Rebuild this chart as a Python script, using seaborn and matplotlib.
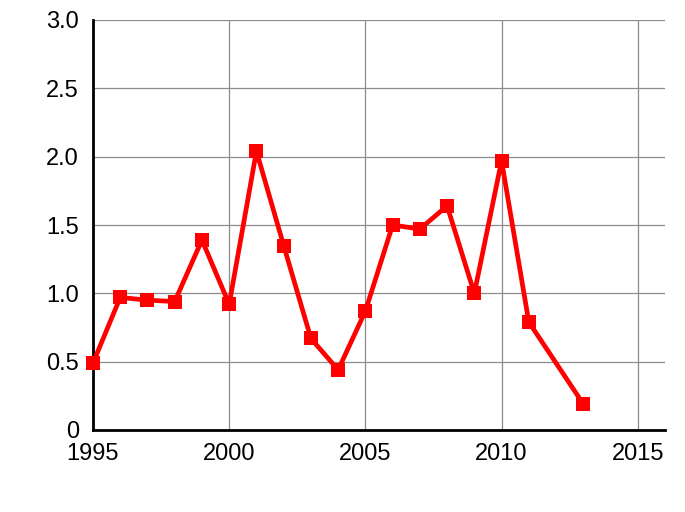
import matplotlib
matplotlib.use("Agg")
import matplotlib.pyplot as plt
import seaborn as sns
import pandas as pd

years = [1995, 1996, 1997, 1998, 1999, 2000, 2001, 2002, 2003, 2004,
         2005, 2006, 2007, 2008, 2009, 2010, 2011, 2013]
values = [0.49, 0.97, 0.95, 0.94, 1.39, 0.92, 2.04, 1.35, 0.67, 0.44,
          0.87, 1.50, 1.47, 1.64, 1.00, 1.97, 0.79, 0.19]
x_ticks = [1995, 2000, 2005, 2010, 2015]
y_ticks = [0, 0.5, 1.0, 1.5, 2.0, 2.5, 3.0]
y_labels = ["0", "0.5", "1.0", "1.5", "2.0", "2.5", "3.0"]

sns.set_theme(style="white")
plt.rcParams['font.family'] = ['Liberation Sans', 'DejaVu Sans']

df = pd.DataFrame({"year": years, "value": values})

fig = plt.figure(figsize=(6.85, 5.12), dpi=100)
ax = fig.add_axes([93/685, 1-430/512, (665-93)/685, (430-20)/512])

sns.lineplot(data=df, x="year", y="value", ax=ax, color="#ff0000",
             linewidth=3.4, marker="s", markersize=10.5, markeredgewidth=0,
             zorder=5, clip_on=False)

ax.set_xlim(1995, 2016)
ax.set_ylim(0, 3.0)
ax.set_xticks(x_ticks)
ax.set_yticks(y_ticks)
ax.set_yticklabels(y_labels)
ax.set_xlabel("")
ax.set_ylabel("")
ax.grid(True, color="#8c8c8c", linewidth=0.9)
ax.tick_params(axis="both", which="both", length=8, width=0.9, color="#8c8c8c",
               labelsize=17, labelcolor="black", pad=2, direction="out")
ax.tick_params(axis="x", pad=1)
for s in ["top", "right"]:
    ax.spines[s].set_visible(False)
for s in ["left", "bottom"]:
    ax.spines[s].set_color("black")
    ax.spines[s].set_linewidth(2)
    ax.spines[s].set_zorder(4)

fig.savefig("out.png", dpi=100)
